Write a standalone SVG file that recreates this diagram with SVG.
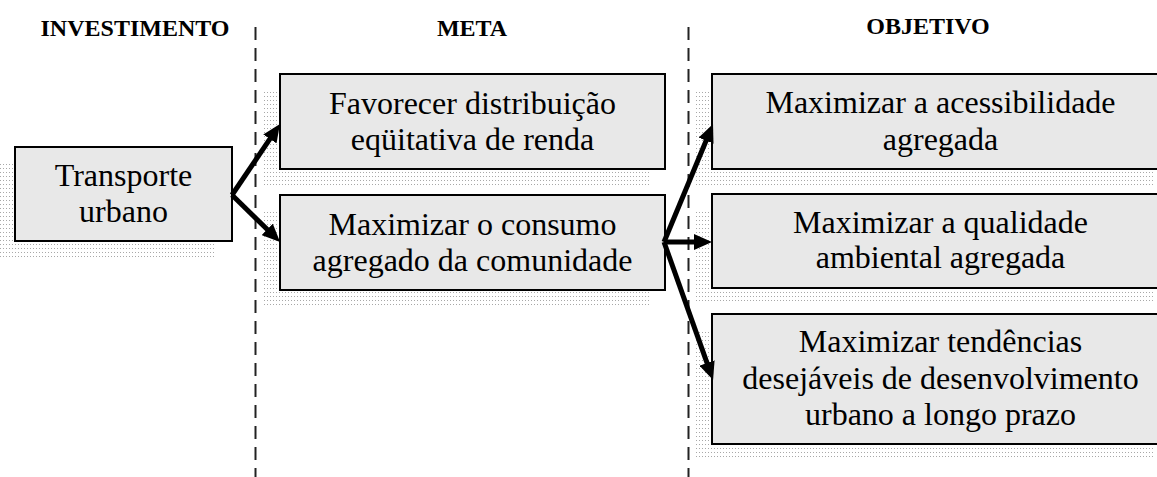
<svg xmlns="http://www.w3.org/2000/svg" width="1157" height="477" viewBox="0 0 1157 477">
<style>
.box{fill:#e8e8e8;stroke:#000;stroke-width:2}
.shadow{fill:url(#dots)}
.t{font-family:"Liberation Serif","Times New Roman",serif;font-size:32px;fill:#000;text-anchor:middle}
.h{font-family:"Liberation Serif","Times New Roman",serif;font-size:24px;font-weight:bold;fill:#000;text-anchor:middle}
.dash{stroke:#222;stroke-width:2;stroke-dasharray:13 8;fill:none}
.arr{stroke:#000;stroke-width:5;fill:none;marker-end:url(#ah)}
</style>
<defs>
<pattern id="dots" width="3" height="4" patternUnits="userSpaceOnUse">
<rect x="0" y="0" width="1" height="1" fill="#a8a8a8"/>
</pattern>
<marker id="ah" markerUnits="userSpaceOnUse" markerWidth="19" markerHeight="16" refX="7" refY="8" orient="auto">
<path d="M0,0 L18,8 L0,16 Z" fill="#000"/>
</marker>
</defs>
<rect width="1157" height="477" fill="#fff"/>
<g id="headers">
<text class="h" x="135" y="36">INVESTIMENTO</text>
<text class="h" x="472" y="36">META</text>
<text class="h" x="928" y="34">OBJETIVO</text>
</g>
<g id="dividers">
<line class="dash" x1="255.5" y1="27" x2="255.5" y2="477"/>
<line class="dash" x1="688.5" y1="27" x2="688.5" y2="477"/>
</g>
<g id="n-transporte">
<rect class="shadow" x="-1" y="163" width="217" height="94"/>
<rect class="box" x="15" y="147" width="217" height="94"/>
<text class="t" x="123.5" y="186">Transporte</text>
<text class="t" x="123.5" y="222">urbano</text>
</g>
<g id="n-favorecer">
<rect class="shadow" x="264" y="90" width="385" height="95"/>
<rect class="box" x="280" y="74" width="385" height="95"/>
<text class="t" x="472.5" y="114">Favorecer distribuição</text>
<text class="t" x="472.5" y="150">eqüitativa de renda</text>
</g>
<g id="n-consumo">
<rect class="shadow" x="264" y="211" width="385" height="95"/>
<rect class="box" x="280" y="195" width="385" height="95"/>
<text class="t" x="472.5" y="235">Maximizar o consumo</text>
<text class="t" x="472.5" y="271">agregado da comunidade</text>
</g>
<g id="n-acessibilidade">
<rect class="shadow" x="696" y="90" width="457" height="95"/>
<rect class="box" x="712" y="74" width="457" height="95"/>
<text class="t" x="940.5" y="113">Maximizar a acessibilidade</text>
<text class="t" x="940.5" y="150">agregada</text>
</g>
<g id="n-qualidade">
<rect class="shadow" x="696" y="210" width="457" height="94"/>
<rect class="box" x="712" y="194" width="457" height="94"/>
<text class="t" x="940.5" y="233">Maximizar a qualidade</text>
<text class="t" x="940.5" y="268">ambiental agregada</text>
</g>
<g id="n-tendencias">
<rect class="shadow" x="696" y="330" width="457" height="130"/>
<rect class="box" x="712" y="314" width="457" height="130"/>
<text class="t" x="940.5" y="352">Maximizar tendências</text>
<text class="t" x="940.5" y="389">desejáveis de desenvolvimento</text>
<text class="t" x="940.5" y="425">urbano a longo prazo</text>
</g>
<g id="connectors">
<line class="arr" x1="232" y1="195" x2="273.8" y2="133.1"/>
<line class="arr" x1="232" y1="195" x2="272.2" y2="234.3"/>
<line class="arr" x1="664" y1="242" x2="708.8" y2="134.2"/>
<line class="arr" x1="664" y1="242" x2="701" y2="242"/>
<line class="arr" x1="664" y1="242" x2="709.4" y2="369.6"/>
</g>
</svg>
